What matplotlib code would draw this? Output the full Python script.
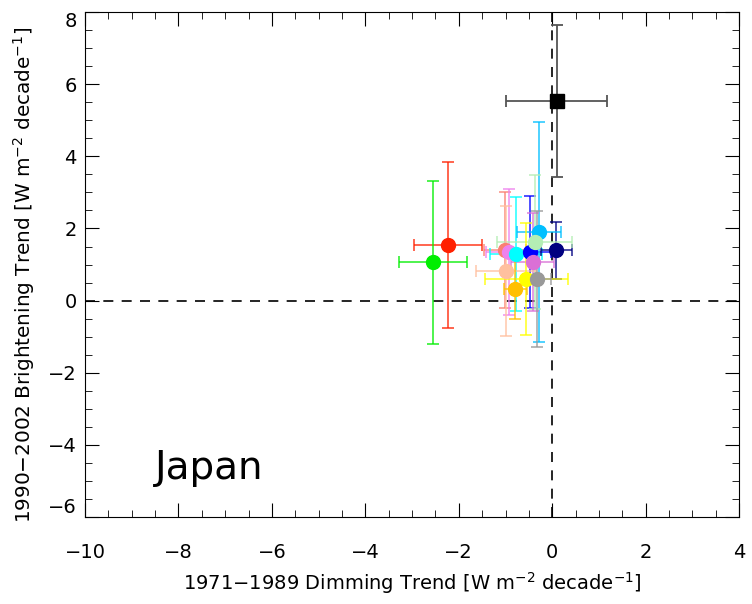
import matplotlib
matplotlib.use("Agg")
import matplotlib.pyplot as plt
from matplotlib.ticker import MultipleLocator

# station trends: dimming (x) vs brightening (y)
colors = ['#FF2000', '#00EE00', '#FA8072', '#EE82EE', '#00FFFF', '#0000FF',
          '#000080', '#00BFFF', '#B4EEB4', '#DA70D6', '#FFC09F', '#FFFF00',
          '#999999', '#FFC000']
x_vals = [-2.23, -2.55, -1.02, -0.92, -0.78, -0.47, 0.09, -0.29, -0.38, -0.42,
          -0.99, -0.56, -0.33, -0.79]
y_vals = [1.54, 1.06, 1.40, 1.35, 1.30, 1.35, 1.40, 1.91, 1.63, 1.07, 0.81,
          0.59, 0.60, 0.33]
x_err = [0.72, 0.73, 0.45, 0.50, 0.55, 0.45, 0.34, 0.47, 0.81, 0.46, 0.65,
         0.89, 0.30, 0.24]
y_err = [2.30, 2.27, 1.60, 1.75, 1.58, 1.55, 0.79, 3.05, 1.85, 1.35, 1.80,
         1.55, 1.88, 0.85]

# country mean
mean_x, mean_y = 0.10, 5.53
mean_xerr, mean_yerr = 1.08, 2.10

x_ticks = [-10, -8, -6, -4, -2, 0, 2, 4]
y_ticks = [-6, -4, -2, 0, 2, 4, 6, 8]

plt.rcParams['font.family'] = 'DejaVu Sans'
fig = plt.figure(figsize=(7.52, 6.04), dpi=100)
ax = fig.add_axes([0.113, 0.144, 0.870, 0.836])

ax.axhline(0, color='black', lw=1.2, ls=(0, (6, 5)), zorder=1)
ax.axvline(0, color='black', lw=1.2, ls=(0, (6, 5)), zorder=1)

for i in range(len(x_vals)):
    ax.errorbar(x_vals[i], y_vals[i], xerr=x_err[i], yerr=y_err[i],
                fmt='none', ecolor=colors[i], alpha=0.75, elinewidth=1.3,
                capsize=4, capthick=1.3, zorder=2)
for i in range(len(x_vals)):
    ax.plot(x_vals[i], y_vals[i], 'o', color=colors[i], ms=10, zorder=3)

ax.errorbar(mean_x, mean_y, xerr=mean_xerr, yerr=mean_yerr, fmt='none',
            ecolor='#555555', elinewidth=1.3, capsize=4, capthick=1.3, zorder=4)
ax.plot(mean_x, mean_y, 's', color='black', ms=10, zorder=5)

ax.text(-8.5, -4.65, 'Japan', fontsize=28, va='center', ha='left')

ax.set_xlim(-10, 4)
ax.set_ylim(-6, 8)
ax.set_xticks(x_ticks)
ax.set_yticks(y_ticks)
ax.xaxis.set_minor_locator(MultipleLocator(0.5))
ax.yaxis.set_minor_locator(MultipleLocator(0.5))
ax.tick_params(which='both', direction='in', top=True, right=True,
               labelsize=14)
ax.tick_params(which='major', length=10)
ax.tick_params(which='minor', length=5)
ax.tick_params(axis='x', which='major', pad=19)
ax.tick_params(axis='y', which='major', pad=6)

# end labels sit inside the box like the original
yt = ax.yaxis.get_major_ticks()
yt[0].label1.set_va('bottom')
yt[-1].label1.set_va('top')

ax.set_xlabel(r'1971$-$1989 Dimming Trend [W m$^{-2}$ decade$^{-1}$]',
              fontsize=14)
ax.set_ylabel(r'1990$-$2002 Brightening Trend [W m$^{-2}$ decade$^{-1}$]',
              fontsize=14.4)
ax.xaxis.set_label_coords(0.5, -0.13)
ax.yaxis.set_label_coords(-0.093, 0.48)
ax.yaxis.label.set_va('center')
ax.xaxis.label.set_va('center')

fig.savefig('out.png', dpi=100)
